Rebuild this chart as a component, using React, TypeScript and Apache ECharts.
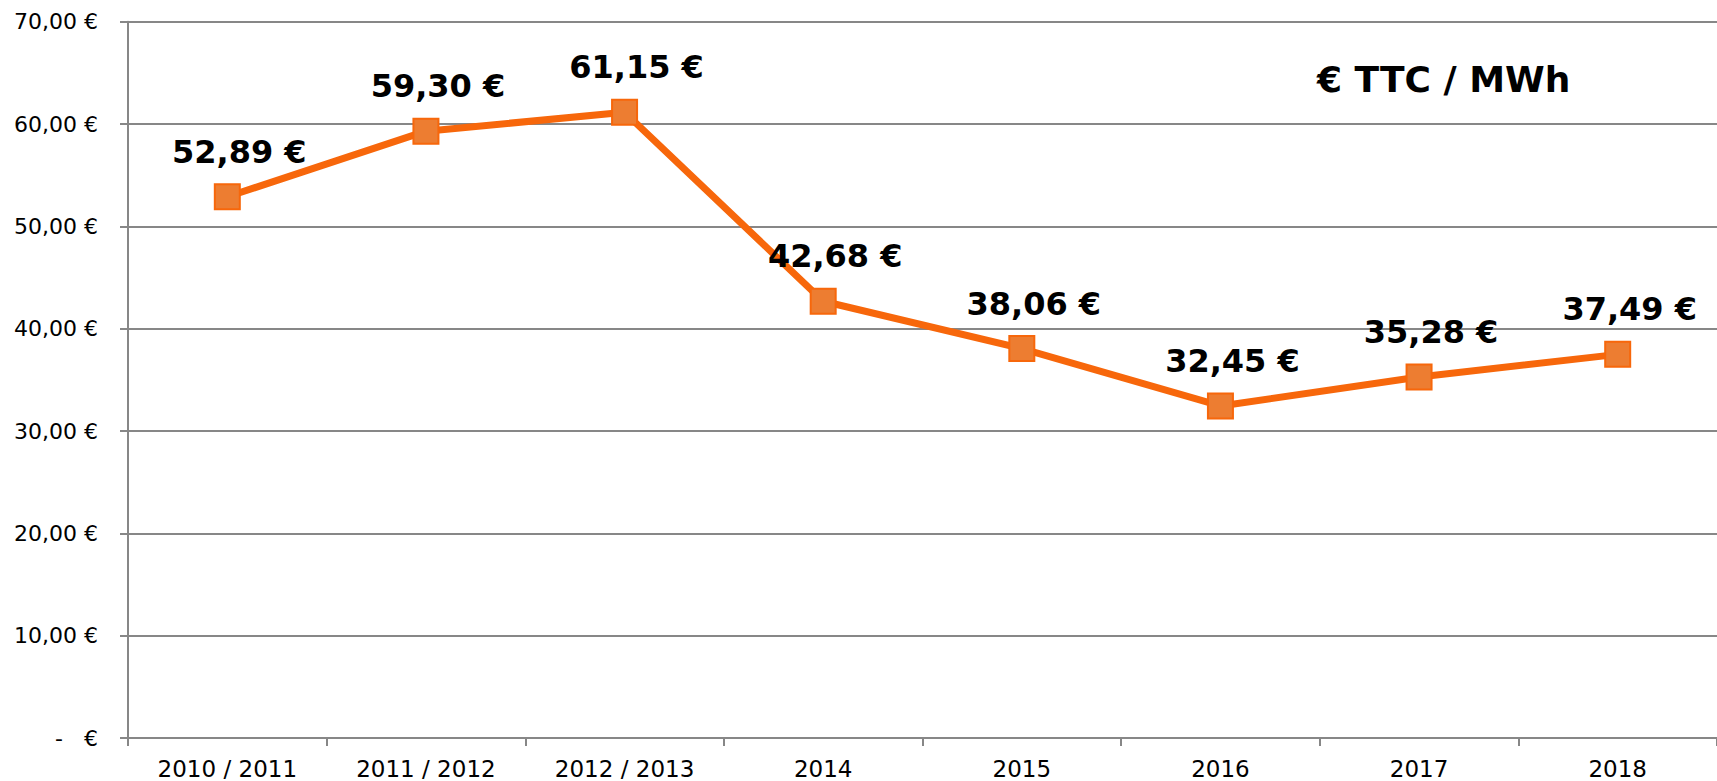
import React, { useEffect, useRef } from "react";
import * as echarts from "echarts";

const categories = ["2010 / 2011", "2011 / 2012", "2012 / 2013", "2014", "2015", "2016", "2017", "2018"];
const prices = [52.89, 59.3, 61.15, 42.68, 38.06, 32.45, 35.28, 37.49];
const yTicks = { min: 0, max: 70, interval: 10 };
const unitTitle = "€ TTC / MWh";

const FONT = "'DejaVu Sans', sans-serif";
const fmt = (v: number) => v.toFixed(2).replace(".", ",") + " €";

export default function App() {
  const ref = useRef<HTMLDivElement>(null);
  useEffect(() => {
    document.body.style.margin = "0";
    const chart = echarts.init(ref.current!, undefined, { renderer: "svg" });
    chart.setOption({
      animation: false,
      backgroundColor: "#ffffff",
      grid: { left: 128, top: 21.7, width: 1600, height: 716.3, containLabel: false },
      graphic: [
        {
          type: "text",
          x: 1317,
          y: 79,
          style: {
            text: unitTitle,
            font: `bold 36px ${FONT}`,
            fill: "#000",
            textAlign: "left",
            textVerticalAlign: "middle",
          },
          z: 10,
        },
      ],
      xAxis: {
        type: "category",
        data: categories,
        boundaryGap: true,
        axisLine: { show: true, lineStyle: { color: "#878787", width: 2 } },
        axisTick: { show: true, length: 8, lineStyle: { color: "#878787", width: 2 } },
        axisLabel: { color: "#000", fontFamily: FONT, fontSize: 23, margin: 19 },
        splitLine: { show: false },
      },
      yAxis: {
        type: "value",
        min: yTicks.min,
        max: yTicks.max,
        interval: yTicks.interval,
        axisLine: { show: true, lineStyle: { color: "#878787", width: 2 } },
        axisTick: { show: true, length: 8, lineStyle: { color: "#878787", width: 2 } },
        axisLabel: {
          color: "#000",
          fontFamily: FONT,
          fontSize: 22,
          margin: 30,
          formatter: (v: number) => (v === 0 ? "-\u00a0\u00a0\u00a0€" : fmt(v)),
        },
        splitLine: { show: true, lineStyle: { color: "#878787", width: 2 } },
      },
      series: [
        {
          type: "line",
          data: prices,
          lineStyle: { color: "#F7670B", width: 7 },
          symbol: "rect",
          symbolSize: 25,
          itemStyle: { color: "#ED7D31", borderColor: "#F7670B", borderWidth: 2 },
          label: {
            show: true,
            position: "inside",
            offset: [12, -45],
            formatter: (p: any) => fmt(p.value),
            color: "#000",
            fontFamily: FONT,
            fontWeight: "bold",
            fontSize: 32,
          },
          z: 3,
        },
      ],
    });
    return () => chart.dispose();
  }, []);
  return <div ref={ref} style={{ width: 1717, height: 781 }} />;
}
